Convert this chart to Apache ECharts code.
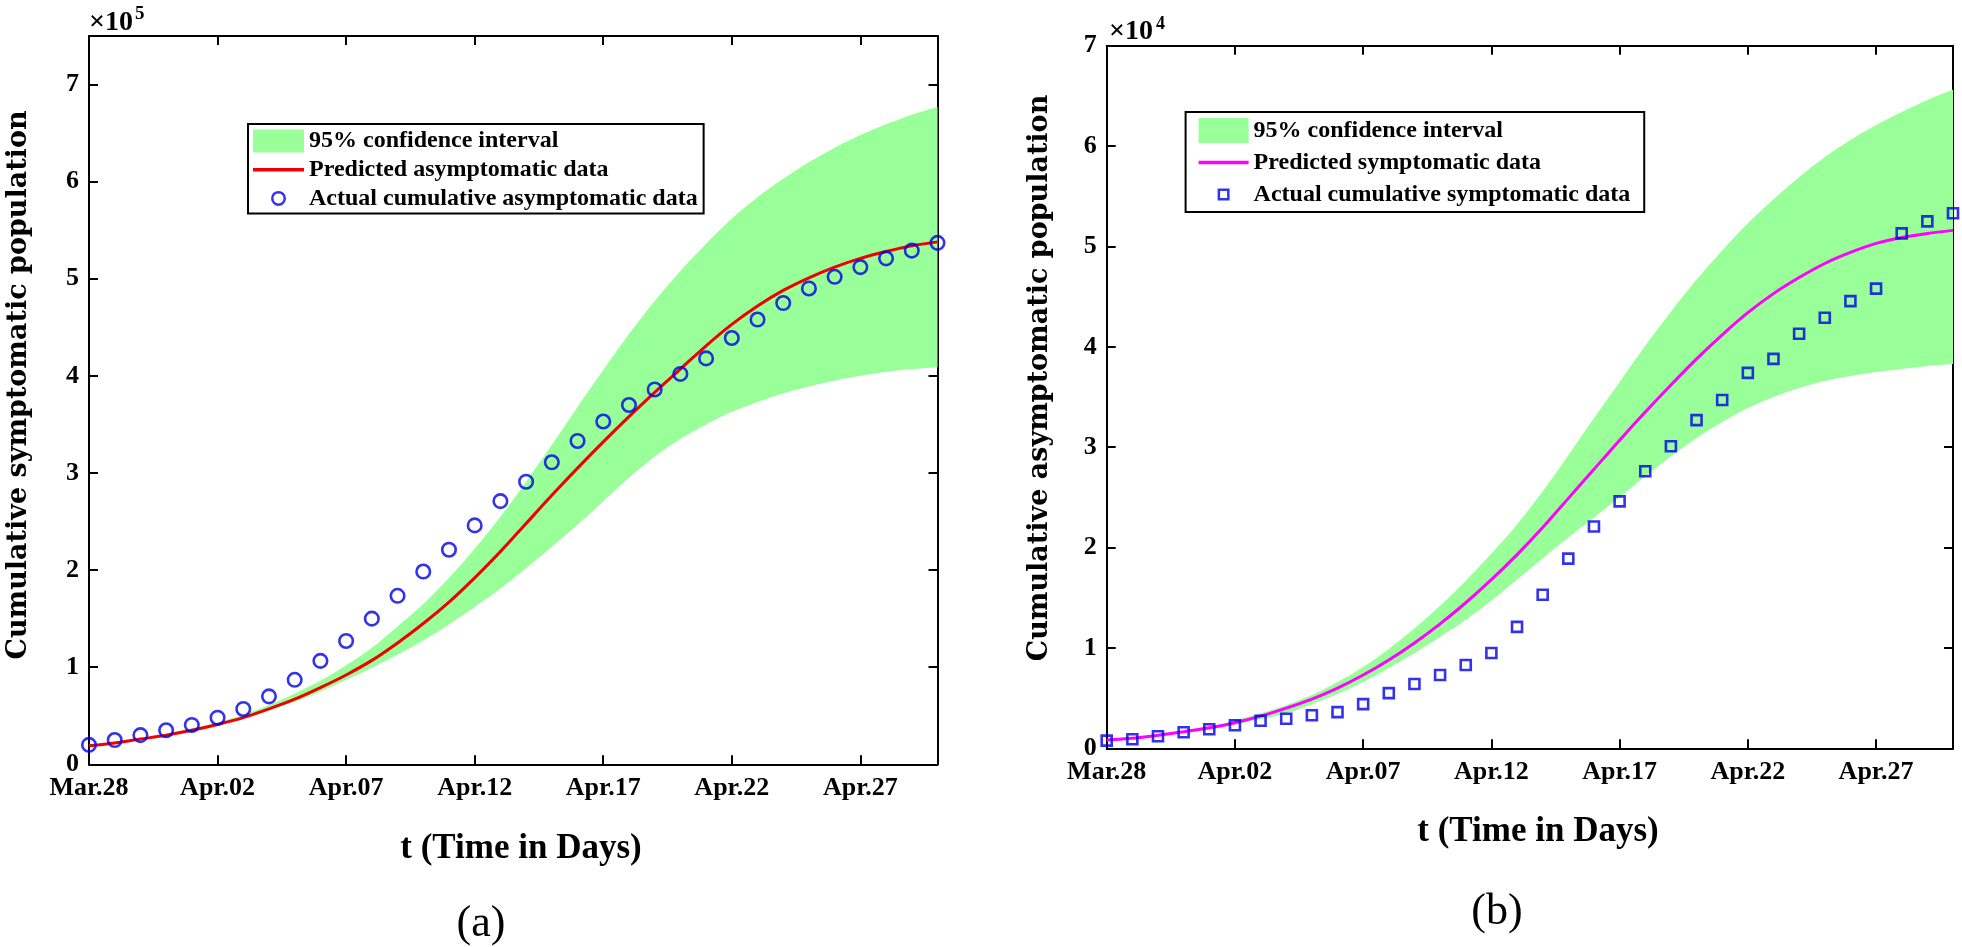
<!DOCTYPE html>
<html>
<head>
<meta charset="utf-8">
<script src="https://cdn.jsdelivr.net/npm/echarts@6/dist/echarts.min.js"></script>
<style>html,body{margin:0;padding:0;background:#fff}#c{width:1962px;height:947px}</style>
</head>
<body>
<div id="c"></div>
<script>
// ---------- data ----------
const dates = ['Mar.28','Mar.29','Mar.30','Mar.31','Apr.01','Apr.02','Apr.03','Apr.04','Apr.05','Apr.06',
  'Apr.07','Apr.08','Apr.09','Apr.10','Apr.11','Apr.12','Apr.13','Apr.14','Apr.15','Apr.16',
  'Apr.17','Apr.18','Apr.19','Apr.20','Apr.21','Apr.22','Apr.23','Apr.24','Apr.25','Apr.26',
  'Apr.27','Apr.28','Apr.29','Apr.30'];

// panel (a) : asymptomatic
const asymActual = [20000,25000,30000,35000,40500,48000,57000,70000,87000,106500,127000,150000,173500,198500,221000,246000,271000,291000,311000,333000,353000,370000,386000,402000,418000,439000,458000,475000,490000,502000,512000,521000,529000,537000];
const asymPred   = [19000,22000,26000,30000,35000,41000,48000,57000,67000,79000,92000,107000,125000,145000,167000,192000,219000,248000,277000,305000,332000,358000,383000,407000,431000,453000,472000,488000,501000,512000,521000,528000,534000,538000];
const asymLower  = [18800,21800,25800,30000,35000,41000,48000,56000,64500,75000,87000,99500,113000,127500,144000,162000,181000,202000,224000,247000,271000,295000,317000,335000,350000,363000,373000,382000,389000,395000,400000,404000,407000,409000];
const asymUpper  = [19200,22200,26200,31200,37000,43000,51000,61000,73000,86000,102000,120000,142000,165000,192000,222000,255000,291000,329000,368000,406000,443000,477000,508000,536000,562000,584000,603000,620000,635000,648000,659000,669000,677000];

// panel (b) : symptomatic
const symActual = [760,900,1200,1600,1900,2300,2750,2950,3300,3600,4400,5500,6400,7300,8300,9500,12100,15300,18900,22100,24600,27600,30100,32700,34700,37400,38800,41300,42900,44550,45800,51300,52500,53300];
const symPred   = [830,1000,1300,1650,2050,2550,3200,4000,4900,6000,7300,8800,10500,12400,14500,16800,19300,22000,24900,27800,30700,33500,36200,38800,41200,43400,45300,46900,48300,49400,50300,50900,51300,51600];
const symLower  = [800,950,1250,1550,1850,2350,2900,3500,4400,5400,6600,8000,9500,11100,12800,14700,16800,18900,21000,23000,25000,27100,29100,30900,32500,33900,35000,35900,36600,37100,37500,37800,38100,38300];
const symUpper  = [860,1050,1350,1700,2100,2800,3500,4300,5300,6600,8100,9900,11950,14200,16700,19400,22300,25600,29200,32900,36500,40100,43500,46700,49600,52300,54700,56900,58900,60600,62100,63400,64600,65600];

const yTicksA = {min:0, max:750000, interval:100000, scale:100000};
const yTicksB = {min:0, max:70000, interval:10000, scale:10000};

// ---------- styling ----------
const GREEN = '#99ff99', RED = '#f00000', MAG = '#ff00ff', BLUE = '#0000e6';
const SERIF = 'Liberation Serif';
const axisLineStyle = {color:'#000', width:2};

function xAxes(grid){
  const base = {
    gridIndex:grid, type:'category', data:dates, boundaryGap:false,
    axisLine:{show:true, onZero:false, lineStyle:axisLineStyle},
    axisTick:{show:true, inside:true, length:9, interval:4, lineStyle:{color:'#000', width:2}},
    splitLine:{show:false}
  };
  return [
    Object.assign({}, base, {position:'bottom',
      axisLabel:{interval:4, margin:11, color:'#000', fontFamily:SERIF, fontWeight:'bold', fontSize:26}}),
    Object.assign({}, base, {position:'top', axisLabel:{show:false}})
  ];
}
function yAxes(grid, t){
  const base = {
    gridIndex:grid, type:'value', min:t.min, max:t.max, interval:t.interval,
    axisLine:{show:true, onZero:false, lineStyle:axisLineStyle},
    axisTick:{show:true, inside:true, length:9, lineStyle:{color:'#000', width:2}},
    splitLine:{show:false}
  };
  return [
    Object.assign({}, base, {position:'left',
      axisLabel:{margin:10, color:'#000', fontFamily:SERIF, fontWeight:'bold', fontSize:26,
        formatter: v => (Math.abs(v % t.interval) < 1e-6 ? String(Math.round(v / t.scale)) : '')}}),
    Object.assign({}, base, {position:'right', axisLabel:{show:false}})
  ];
}

function bandSeries(xi, yi, lower, upper, stack, name){
  return [
    {type:'line', name:'_lower_'+stack, xAxisIndex:xi, yAxisIndex:yi, data:lower, stack:stack,
     symbol:'none', smooth:0.3, lineStyle:{width:0, opacity:0}, silent:true, z:1},
    {type:'line', name:name, xAxisIndex:xi, yAxisIndex:yi, data:upper.map((u,i)=>u-lower[i]), stack:stack,
     symbol:'none', smooth:0.3, lineStyle:{width:0, opacity:0}, itemStyle:{color:GREEN},
     areaStyle:{color:GREEN, opacity:1}, silent:true, z:1}
  ];
}

const circleIcon = 'path://M0,0M51,23M33,11.5A7.5,7.5,0,1,1,18,11.5A7.5,7.5,0,1,1,33,11.5ZM30.5,11.5A5,5,0,1,0,20.5,11.5A5,5,0,1,0,30.5,11.5Z';
const redLineIcon = 'path://M0,0M51,23M0,9.75L51,9.75L51,13.25L0,13.25Z';
const squareIcon = 'path://M0,0M50,25M19,6.5L31,6.5L31,18.5L19,18.5ZM21.5,9L21.5,16L28.5,16L28.5,9Z';
const magLineIcon = 'path://M0,0M50,25M0,10.75L50,10.75L50,14.25L0,14.25Z';

const legendText = {fontFamily:SERIF, fontWeight:'bold', fontSize:24, color:'#000'};

const option = {
  animation:false,
  backgroundColor:'#fff',
  grid:[
    {left:89, top:36, width:848.5, height:728.3, containLabel:false},
    {left:1106.7, top:45.7, width:846.3, height:702.6, containLabel:false}
  ],
  xAxis:[...xAxes(0), ...xAxes(1)],
  yAxis:[...yAxes(0, yTicksA), ...yAxes(1, yTicksB)],
  legend:[
    {left:248, top:124, orient:'vertical', selectedMode:false,
     borderColor:'#000', borderWidth:2, backgroundColor:'#fff',
     padding:[5,6,3,5], itemWidth:51, itemHeight:23, itemGap:4.7,
     textStyle:legendText, itemStyle:{borderWidth:0},
     data:[
       {name:'95% confidence interval', icon:'rect', itemStyle:{color:GREEN, borderWidth:0}},
       {name:'Predicted asymptomatic data', icon:redLineIcon, itemStyle:{color:RED, borderWidth:0}},
       {name:'Actual cumulative asymptomatic data', icon:circleIcon, itemStyle:{color:BLUE, borderWidth:0}}
     ]},
    {left:1185.6, top:112, orient:'vertical', selectedMode:false,
     borderColor:'#000', borderWidth:2, backgroundColor:'#fff',
     padding:[6,14,5,13], itemWidth:50, itemHeight:25, itemGap:7,
     textStyle:legendText, itemStyle:{borderWidth:0},
     data:[
       {name:'95% confidence interval', icon:'rect', itemStyle:{color:GREEN, borderWidth:0}},
       {name:'Predicted symptomatic data', icon:magLineIcon, itemStyle:{color:MAG, borderWidth:0}},
       {name:'Actual cumulative symptomatic data', icon:squareIcon, itemStyle:{color:BLUE, borderWidth:0}}
     ]}
  ],
  series:[
    ...bandSeries(0, 0, asymLower, asymUpper, 'bandA', '95% confidence interval'),
    {type:'line', name:'Predicted asymptomatic data', xAxisIndex:0, yAxisIndex:0, data:asymPred,
     symbol:'none', smooth:0.3, lineStyle:{color:RED, width:3}, itemStyle:{color:RED}, z:3},
    {type:'scatter', name:'Actual cumulative asymptomatic data', xAxisIndex:0, yAxisIndex:0, data:asymActual,
     symbol:'circle', symbolSize:13.5, itemStyle:{color:'rgba(0,0,0,0)', borderColor:BLUE, borderWidth:2.6}, z:4},

    ...bandSeries(2, 2, symLower, symUpper, 'bandB', '95% confidence interval'),
    {type:'line', name:'Predicted symptomatic data', xAxisIndex:2, yAxisIndex:2, data:symPred,
     symbol:'none', smooth:0.3, lineStyle:{color:MAG, width:3}, itemStyle:{color:MAG}, z:3},
    {type:'scatter', name:'Actual cumulative symptomatic data', xAxisIndex:2, yAxisIndex:2, data:symActual,
     symbol:'rect', symbolSize:10, itemStyle:{color:'rgba(0,0,0,0)', borderColor:BLUE, borderWidth:2.6}, z:4}
  ],
  graphic:[
    // exponent labels
    {type:'text', x:89, y:23, style:{text:'\u00d710', font:'bold 28px "Liberation Serif"', fill:'#000', align:'left', verticalAlign:'middle', textAlign:'left', textVerticalAlign:'middle'}},
    {type:'text', x:135, y:14, style:{text:'5', font:'bold 19px "Liberation Serif"', fill:'#000', align:'left', verticalAlign:'middle', textAlign:'left', textVerticalAlign:'middle'}},
    {type:'text', x:1109, y:32, style:{text:'\u00d710', font:'bold 28px "Liberation Serif"', fill:'#000', align:'left', verticalAlign:'middle', textAlign:'left', textVerticalAlign:'middle'}},
    {type:'text', x:1156, y:24, style:{text:'4', font:'bold 18px "Liberation Serif"', fill:'#000', align:'left', verticalAlign:'middle', textAlign:'left', textVerticalAlign:'middle'}},
    // y axis titles
    {type:'text', x:19, y:385, rotation:Math.PI/2, style:{text:'Cumulative symptomatic population', font:'bold 27px "DejaVu Serif"', fill:'#000', align:'center', verticalAlign:'middle', textAlign:'center', textVerticalAlign:'middle'}},
    {type:'text', x:1040, y:378, rotation:Math.PI/2, style:{text:'Cumulative asymptomatic population', font:'bold 27px "DejaVu Serif"', fill:'#000', align:'center', verticalAlign:'middle', textAlign:'center', textVerticalAlign:'middle'}},
    // x axis titles
    {type:'text', x:521, y:849, style:{text:'t (Time in Days)', font:'bold 35px "Liberation Serif"', fill:'#000', align:'center', verticalAlign:'middle', textAlign:'center', textVerticalAlign:'middle'}},
    {type:'text', x:1538, y:832, style:{text:'t (Time in Days)', font:'bold 35px "Liberation Serif"', fill:'#000', align:'center', verticalAlign:'middle', textAlign:'center', textVerticalAlign:'middle'}},
    // panel captions
    {type:'text', x:481, y:924, style:{text:'(a)', font:'44px "Liberation Serif"', fill:'#000', align:'center', verticalAlign:'middle', textAlign:'center', textVerticalAlign:'middle'}},
    {type:'text', x:1497, y:912, style:{text:'(b)', font:'44px "Liberation Serif"', fill:'#000', align:'center', verticalAlign:'middle', textAlign:'center', textVerticalAlign:'middle'}}
  ]
};

const chart = echarts.init(document.getElementById('c'), null, {renderer:'canvas', width:1962, height:947});
chart.setOption(option);
</script>
</body>
</html>
